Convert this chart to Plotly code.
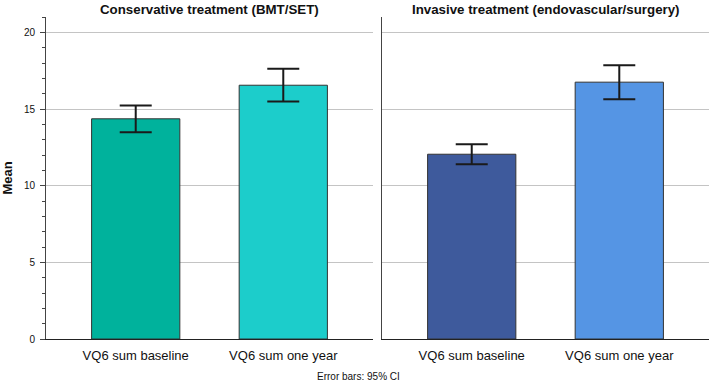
import plotly.graph_objects as go

categories = ["VQ6 sum baseline", "VQ6 sum one year"]
panel_titles = ["Conservative treatment (BMT/SET)", "Invasive treatment (endovascular/surgery)"]
cons_mean = [14.36, 16.55]
cons_ci_low = [13.49, 15.49]
cons_ci_high = [15.23, 17.62]
inv_mean = [12.05, 16.75]
inv_ci_low = [11.40, 15.64]
inv_ci_high = [12.70, 17.86]
cons_colors = ["#00b29c", "#1ccdcb"]
inv_colors = ["#3e5a9c", "#5595e4"]
y_ticks = [0, 5, 10, 15, 20]

FONT = "Liberation Sans, Arial, Helvetica, sans-serif"
fig = go.Figure()

def add_panel(means, lo, hi, colors, xa, ya):
    fig.add_trace(go.Bar(
        x=categories, y=means, xaxis=xa, yaxis=ya,
        width=0.598,
        marker=dict(color=colors, line=dict(color="#333333", width=1)),
        error_y=dict(type="data", symmetric=False,
                     array=[h - m for h, m in zip(hi, means)],
                     arrayminus=[m - l for m, l in zip(means, lo)],
                     color="#1a1a1a", thickness=2, width=16),
        showlegend=False, hoverinfo="y",
    ))

add_panel(cons_mean, cons_ci_low, cons_ci_high, cons_colors, "x", "y")
add_panel(inv_mean, inv_ci_low, inv_ci_high, inv_colors, "x2", "y2")

xcommon = dict(type="category", range=[-0.608, 1.608], showline=True,
               linecolor="#222222", linewidth=1, ticks="", showgrid=False,
               ticklabelstandoff=4,
               tickfont=dict(family=FONT, size=13, color="#111111"), fixedrange=True)
ycommon = dict(range=[0, 21], showgrid=True, gridcolor="#c4c4c4", gridwidth=1,
               zeroline=False, showline=True, linecolor="#444444", linewidth=1,
               tickvals=y_ticks, fixedrange=True)

fig.update_layout(
    width=709, height=383,
    margin=dict(l=44, r=0, t=17, b=44),
    plot_bgcolor="white", paper_bgcolor="white",
    bargap=0.4,
    xaxis=dict(domain=[0, 0.4932], anchor="y", **xcommon),
    xaxis2=dict(domain=[0.5068, 1], anchor="y2", **xcommon),
    yaxis=dict(anchor="x", ticks="outside", ticklen=5, tickcolor="#444444",
               ticklabelstandoff=3,
               tickfont=dict(family=FONT, size=10, color="#111111"),
               minor=dict(dtick=1, ticks="outside", ticklen=3, tickcolor="#444444", showgrid=False),
               title=dict(text="<b>Mean</b>", font=dict(family=FONT, size=13, color="#111111"), standoff=15),
               **ycommon),
    yaxis2=dict(anchor="x2", ticks="", showticklabels=False, **ycommon),
    annotations=[
        dict(text="<b>" + panel_titles[0] + "</b>", x=0.2466, y=1, xref="paper", yref="paper",
             xanchor="center", yanchor="bottom", yshift=-2, showarrow=False,
             font=dict(family=FONT, size=13.3, color="#111111")),
        dict(text="<b>" + panel_titles[1] + "</b>", x=0.7534, y=1, xref="paper", yref="paper",
             xanchor="center", yanchor="bottom", yshift=-2, showarrow=False,
             font=dict(family=FONT, size=13.3, color="#111111")),
        dict(text="Error bars: 95% CI", x=0.4707, y=0, xref="paper", yref="paper",
             xanchor="center", yanchor="middle", yshift=-37, showarrow=False,
             font=dict(family=FONT, size=10, color="#111111")),
    ],
)

fig.write_html("out.html", config={"displayModeBar": False},
               post_script="document.body.style.margin='0';document.body.style.padding='0';")
